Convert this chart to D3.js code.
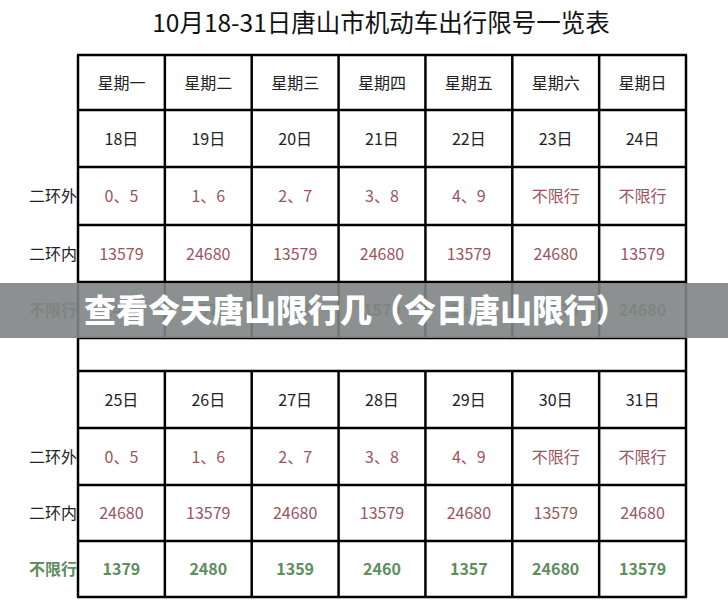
<!DOCTYPE html>
<html><head><meta charset="utf-8">
<script src="https://cdn.jsdelivr.net/npm/d3@7"></script>
<style>body{margin:0;background:#fff}svg{display:block}text{font-family:"Noto Sans CJK SC","Noto Sans",sans-serif}</style>
</head><body><svg id="c" width="728" height="616"></svg>
<script>
const title = "10月18-31日唐山市机动车出行限号一览表";
const weekdays = ["星期一","星期二","星期三","星期四","星期五","星期六","星期日"];
const rowLabels = ["二环外","二环内","不限行"];
const week1Dates = ["18日","19日","20日","21日","22日","23日","24日"];
const week1Outer = ["0、5","1、6","2、7","3、8","4、9","不限行","不限行"];
const week1Inner = ["13579","24680","13579","24680","13579","24680","13579"];
const week1Free  = ["2468","3579","4680","1579","2680","13579","24680"];
const week2Dates = ["25日","26日","27日","28日","29日","30日","31日"];
const week2Outer = ["0、5","1、6","2、7","3、8","4、9","不限行","不限行"];
const week2Inner = ["24680","13579","24680","13579","24680","13579","24680"];
const week2Free  = ["1379","2480","1359","2460","1357","24680","13579"];
const banner = "查看今天唐山限行几（今日唐山限行）";

const svg = d3.select("#c");
const x = d3.scaleBand().domain(d3.range(7)).range([78,686]);
const red = "#9a5560", green = "#5e8d5e", black = "#222";
svg.append("text").attr("x",381).attr("y",32).attr("text-anchor","middle")
  .attr("font-size",24.5).attr("fill","#111").text(title);

const rows = [
  [55,110,weekdays,black,400,null],
  [110,167,week1Dates,black,400,null],
  [167,225,week1Outer,red,400,rowLabels[0]],
  [225,282,week1Inner,red,400,rowLabels[1]],
  [282,338,week1Free,green,700,rowLabels[2]],
  [338,371,null,null,400,null],
  [371,428,week2Dates,black,400,null],
  [428,485,week2Outer,red,400,rowLabels[0]],
  [485,541,week2Inner,red,400,rowLabels[1]],
  [541,597,week2Free,green,700,rowLabels[2]]
];
const g = svg.append("g");
rows.forEach(([t,b,vals,col,w,lab])=>{
  const cy = (t+b)/2+6;
  if(vals){
    g.selectAll(null).data(vals).join("text")
      .attr("x",(d,i)=>x(i)+x.bandwidth()/2).attr("y",cy)
      .attr("text-anchor","middle").attr("font-size",16).attr("font-weight",w)
      .attr("fill",(d)=> d==="不限行"? red : col).text(d=>d);
    g.selectAll(null).data(d3.range(8)).join("line")
      .attr("x1",i=>i<7?x(i):686).attr("x2",i=>i<7?x(i):686).attr("y1",t).attr("y2",b)
      .attr("stroke","#000").attr("stroke-width",2.5);
  } else {
    g.selectAll(null).data([78,686]).join("line").attr("x1",d=>d).attr("x2",d=>d)
      .attr("y1",t).attr("y2",b).attr("stroke","#000").attr("stroke-width",2.5);
  }
  if(lab) g.append("text").attr("x",77).attr("y",cy).attr("text-anchor","end")
    .attr("font-size",16).attr("font-weight",w).attr("fill",lab==="不限行"?green:"#222").text(lab);
  g.append("line").attr("x1",77).attr("x2",687).attr("y1",t).attr("y2",t).attr("stroke","#000").attr("stroke-width",2.5);
});
g.append("line").attr("x1",77).attr("x2",687).attr("y1",597).attr("y2",597).attr("stroke","#000").attr("stroke-width",2.5);

svg.append("rect").attr("x",0).attr("y",283).attr("width",728).attr("height",55)
  .attr("fill","#7f8484").attr("opacity",0.9);
svg.append("text").attr("x",84).attr("y",322).attr("font-size",32).attr("font-weight",900)
  .attr("fill","#fff").text(banner);
</script></body></html>
